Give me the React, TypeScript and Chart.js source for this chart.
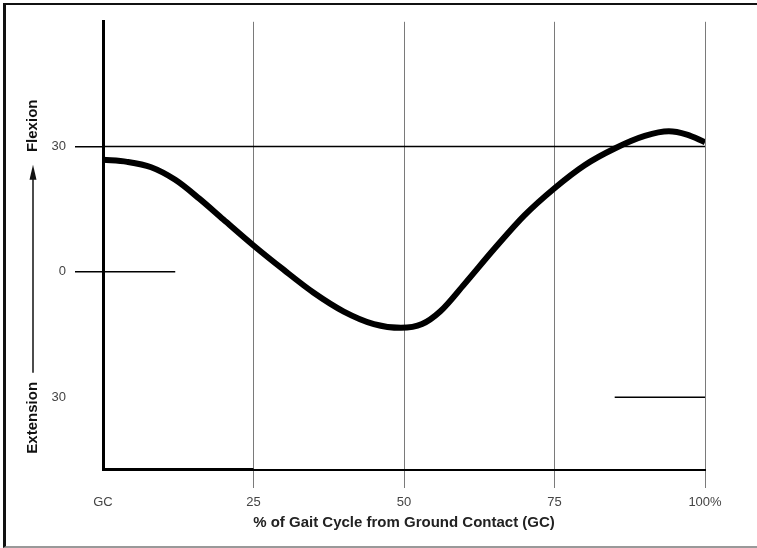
import React, { useEffect, useRef } from "react";
import { Chart, registerables } from "chart.js";

Chart.register(...registerables);

// Gait cycle percentage (x) and joint angle in degrees (y)
const gaitPercent = [0, 4, 8, 12, 16, 20, 25, 30, 35, 40, 45, 49.5, 53, 56, 60, 65, 70, 75, 80, 85, 90, 94, 97, 100];
const jointAngle = [26.8, 26.3, 25, 22, 17.5, 12.5, 6.3, 0.5, -5, -9.5, -12.5, -13.4, -12.5, -9.5, -3, 5.5, 13.5, 20, 25.5, 29.5, 32.5, 33.6, 32.8, 31];

const xTickValues = [0, 25, 50, 75, 100];
const xTickLabels = ["GC", "25", "50", "75", "100%"];
const yTickValues = [-30, 0, 30];
const yTickLabels = ["30", "0", "30"];

const yMin = -47.4;
const yMax = 59.8;

// reference segments: [y, xStart, xEnd]
const ref30 = [30, 0, 100];
const ref0 = [0, 0, 12];
const refMinus30 = [-30, 85, 100];
const baseThick = [yMin, 0, 25];

const xTitle = "% of Gait Cycle from Ground Contact (GC)";
const yTitleTop = "Flexion";
const yTitleBottom = "Extension";

const FONT = "'Liberation Sans', Arial, Helvetica, sans-serif";

function seg(s: number[]) {
  return [
    { x: s[1], y: s[0] },
    { x: s[2], y: s[0] },
  ];
}

const yTitlePlugin = {
  id: "yTitle",
  afterDraw(chart: any) {
    const ctx = chart.ctx;
    const top = chart.chartArea.top;
    const cx = 27;
    ctx.save();
    ctx.fillStyle = "#111";
    ctx.strokeStyle = "#111";
    ctx.font = `bold 15px ${FONT}`;
    ctx.textAlign = "center";
    ctx.textBaseline = "middle";
    // Flexion
    ctx.save();
    ctx.translate(cx, top + 104);
    ctx.rotate(-Math.PI / 2);
    ctx.fillText(yTitleTop, 0, 0);
    ctx.restore();
    // Extension
    ctx.save();
    ctx.translate(cx, top + 396);
    ctx.rotate(-Math.PI / 2);
    ctx.fillText(yTitleBottom, 0, 0);
    ctx.restore();
    // arrow
    ctx.lineWidth = 1.5;
    ctx.beginPath();
    ctx.moveTo(cx, top + 351);
    ctx.lineTo(cx, top + 155);
    ctx.stroke();
    ctx.beginPath();
    ctx.moveTo(cx, top + 143);
    ctx.lineTo(cx - 3.5, top + 158);
    ctx.lineTo(cx + 3.5, top + 158);
    ctx.closePath();
    ctx.fill();
    ctx.restore();
  },
};

export default function App() {
  const ref = useRef<HTMLCanvasElement | null>(null);

  useEffect(() => {
    if (!ref.current) return;
    const lineDs = (data: any[], width: number) => ({
      data,
      borderColor: "#000",
      borderWidth: width,
      pointRadius: 0,
      tension: 0,
      fill: false,
    });
    const chart = new Chart(ref.current, {
      type: "line",
      data: {
        datasets: [
          lineDs(seg(ref30), 1.5),
          lineDs(seg(ref0), 1.5),
          lineDs(seg(refMinus30), 1.5),
          lineDs(seg(baseThick), 4),
          {
            data: gaitPercent.map((x, i) => ({ x, y: jointAngle[i] })),
            borderColor: "#000",
            borderWidth: 6,
            pointRadius: 0,
            cubicInterpolationMode: "monotone",
            fill: false,
          } as any,
        ],
      },
      options: {
        animation: false,
        responsive: false,
        maintainAspectRatio: false,
        layout: { padding: { top: 15, right: 52, left: 0, bottom: 0 } },
        plugins: {
          legend: { display: false },
          tooltip: { enabled: false },
        },
        scales: {
          x: {
            type: "linear",
            min: 0,
            max: 100,
            afterBuildTicks: (s: any) => {
              s.ticks = xTickValues.map((v) => ({ value: v }));
            },
            afterFit: (s: any) => {
              s.height = 76;
            },
            ticks: {
              autoSkip: false,
              maxRotation: 0,
              padding: 7,
              color: "#444",
              font: { family: FONT, size: 13 },
              callback: (v: any) => {
                const i = xTickValues.indexOf(Number(v));
                return i >= 0 ? xTickLabels[i] : "";
              },
            },
            grid: {
              drawOnChartArea: true,
              drawTicks: true,
              tickLength: 18,
              color: (c: any) => (c.tick && c.tick.value === 0 ? "rgba(0,0,0,0)" : "#7a7a7a"),
              lineWidth: 1,
            },
            border: { display: true, color: "#000", width: 2 },
            title: {
              display: true,
              text: xTitle,
              color: "#222",
              font: { family: FONT, size: 15, weight: "bold" },
              padding: { top: 0, bottom: 14 },
            },
          },
          y: {
            type: "linear",
            min: yMin,
            max: yMax,
            afterBuildTicks: (s: any) => {
              s.ticks = yTickValues.map((v) => ({ value: v }));
            },
            afterFit: (s: any) => {
              s.width = 97;
            },
            ticks: {
              autoSkip: false,
              padding: 9,
              color: "#444",
              font: { family: FONT, size: 13 },
              callback: (v: any) => {
                const i = yTickValues.indexOf(Number(v));
                return i >= 0 ? yTickLabels[i] : "";
              },
            },
            grid: {
              drawOnChartArea: false,
              drawTicks: true,
              tickLength: 28,
              color: (c: any) => (c.tick && c.tick.value === -30 ? "rgba(0,0,0,0)" : "#000"),
              lineWidth: 1.5,
            },
            border: { display: true, color: "#000", width: 3 },
          },
        },
      } as any,
      plugins: [yTitlePlugin],
    });
    return () => chart.destroy();
  }, []);

  return (
    <div
      style={{
        position: "absolute",
        left: 3,
        top: 3,
        width: 754,
        height: 545,
        boxSizing: "border-box",
        borderTop: "2px solid #111",
        borderLeft: "3px solid #111",
        borderBottom: "2px solid #999",
        background: "#fff",
      }}
    >
      <canvas ref={ref} width={751} height={541} style={{ display: "block", width: 751, height: 541 }} />
    </div>
  );
}
